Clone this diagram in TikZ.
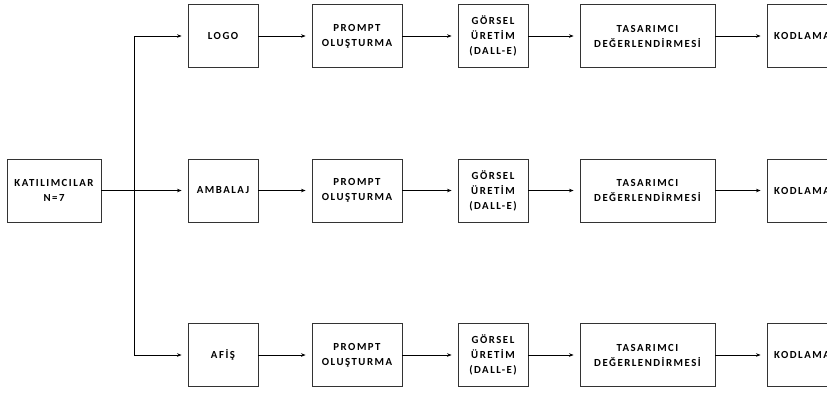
\documentclass[tikz,border=0pt]{standalone}
\usepackage{fontspec}
\setmainfont{Carlito}
\newfontfamily\boxfont{Carlito}[LetterSpace=14, UprightFont=* Bold]
\usetikzlibrary{arrows.meta}

\tikzset{
  stage/.style={draw=black!80, line width=0.9pt, align=center, minimum height=63pt,
    inner sep=0pt, font=\boxfont\fontsize{10.8}{15}\selectfont},
  flow/.style={-{Stealth[length=4.5pt,width=3.5pt]}, line width=0.7pt, shorten >=6pt},
}

\begin{document}
\begin{tikzpicture}[x=1pt, y=-1pt]
    \useasboundingbox (0,0) rectangle (827,392); % page size
    \node[stage, minimum width=94pt] (kat) at (54,190.5) {KATILIMCILAR\\N=7};
    \coordinate (split) at (134,190.5); % branch line
    \foreach \r/\y/\t in {top/36/LOGO, mid/190.5/AMBALAJ, bot/355/AF{İ}Ş} {
        \node[stage, minimum width=70pt] (\r-topic) at (223,\y) {\t};
        \node[stage, minimum width=90pt] (\r-prompt) at (357,\y) {PROMPT\\OLUŞTURMA};
        \node[stage, minimum width=70pt] (\r-image) at (493,\y) {GÖRSEL\\ÜRET{İ}M\\(DALL-E)};
        \node[stage, minimum width=135pt] (\r-review) at (647.5,\y) {TASARIMCI\\DEĞERLEND{İ}RMES{İ}};
        \node[stage, minimum width=70pt] (\r-code) at (802,\y) {KODLAMA};
        \draw[flow] (\r-topic) -- (\r-prompt);
        \draw[flow] (\r-prompt) -- (\r-image);
        \draw[flow] (\r-image) -- (\r-review);
        \draw[flow] (\r-review) -- (\r-code);
    }
    \draw[flow] (kat) -- (mid-topic); % middle branch
    \draw[flow] (split) |- (top-topic);
    \draw[flow] (split) |- (bot-topic);
\end{tikzpicture}
\end{document}
